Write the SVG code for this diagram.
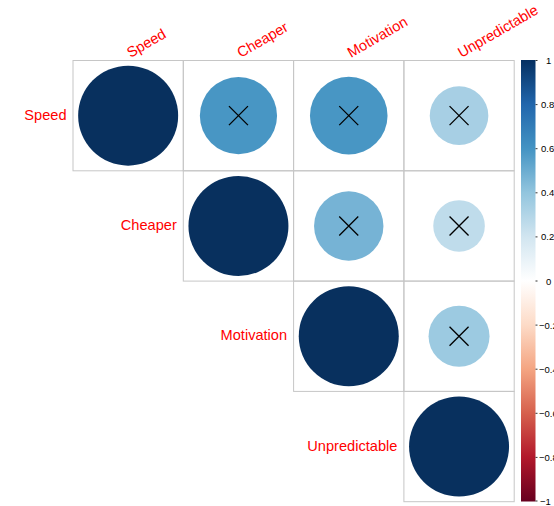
<svg xmlns="http://www.w3.org/2000/svg" width="554" height="506" viewBox="0 0 554 506">
<defs>
<linearGradient id="rdbu" x1="0" y1="1" x2="0" y2="0">
<stop offset="0" stop-color="#67001F"/>
<stop offset="0.1" stop-color="#B2182B"/>
<stop offset="0.2" stop-color="#D6604D"/>
<stop offset="0.3" stop-color="#F4A582"/>
<stop offset="0.4" stop-color="#FDDBC7"/>
<stop offset="0.5" stop-color="#FFFFFF"/>
<stop offset="0.6" stop-color="#D1E5F0"/>
<stop offset="0.7" stop-color="#92C5DE"/>
<stop offset="0.8" stop-color="#4393C3"/>
<stop offset="0.9" stop-color="#2166AC"/>
<stop offset="1" stop-color="#053061"/>
</linearGradient>
</defs>
<style>
.cell{fill:none;stroke:#C6C6C6;stroke-width:1}
.lab{font-family:"Liberation Sans",Arial,sans-serif;font-size:14.6px;fill:#FF0000}
.row{text-anchor:end}
.x{stroke:#000;stroke-width:1.3;fill:none}
.cl{font-family:"Liberation Sans",Arial,sans-serif;font-size:9.5px;fill:#000}
.tick{stroke:#333;stroke-width:1}
</style>
<rect width="554" height="506" fill="#FFFFFF"/>

<g id="grid">
<rect class="cell" x="73" y="60.5" width="110.3" height="110.3"/>
<rect class="cell" x="183.3" y="60.5" width="110.3" height="110.3"/>
<rect class="cell" x="293.6" y="60.5" width="110.3" height="110.3"/>
<rect class="cell" x="403.9" y="60.5" width="110.3" height="110.3"/>
<rect class="cell" x="183.3" y="170.8" width="110.3" height="110.3"/>
<rect class="cell" x="293.6" y="170.8" width="110.3" height="110.3"/>
<rect class="cell" x="403.9" y="170.8" width="110.3" height="110.3"/>
<rect class="cell" x="293.6" y="281.1" width="110.3" height="110.3"/>
<rect class="cell" x="403.9" y="281.1" width="110.3" height="110.3"/>
<rect class="cell" x="403.9" y="391.4" width="110.3" height="110.3"/>
</g>

<g id="speed-speed"><circle cx="128.15" cy="115.65" r="50" fill="#08305E"/></g>
<g id="speed-cheaper"><circle cx="238.45" cy="115.65" r="38.6" fill="#4896C4"/><path class="x" d="M228.95 106.15L247.95 125.15M228.95 125.15L247.95 106.15"/></g>
<g id="speed-motivation"><circle cx="348.75" cy="115.65" r="38.8" fill="#4896C4"/><path class="x" d="M339.25 106.15L358.25 125.15M339.25 125.15L358.25 106.15"/></g>
<g id="speed-unpredictable"><circle cx="459.05" cy="115.65" r="29.3" fill="#A7CFE4"/><path class="x" d="M449.55 106.15L468.55 125.15M449.55 125.15L468.55 106.15"/></g>
<g id="cheaper-cheaper"><circle cx="238.45" cy="225.95" r="50" fill="#08305E"/></g>
<g id="cheaper-motivation"><circle cx="348.75" cy="225.95" r="34.7" fill="#76B3D5"/><path class="x" d="M339.25 216.45L358.25 235.45M339.25 235.45L358.25 216.45"/></g>
<g id="cheaper-unpredictable"><circle cx="459.05" cy="225.95" r="25.8" fill="#BFDCEB"/><path class="x" d="M449.55 216.45L468.55 235.45M449.55 235.45L468.55 216.45"/></g>
<g id="motivation-motivation"><circle cx="348.75" cy="336.25" r="50" fill="#08305E"/></g>
<g id="motivation-unpredictable"><circle cx="459.05" cy="336.25" r="30.5" fill="#9CCAE1"/><path class="x" d="M449.55 326.75L468.55 345.75M449.55 345.75L468.55 326.75"/></g>
<g id="unpredictable-unpredictable"><circle cx="459.05" cy="446.55" r="50" fill="#08305E"/></g>

<g id="row-labels">
<text class="lab row" x="66.5" y="119.6">Speed</text>
<text class="lab row" x="176.8" y="230">Cheaper</text>
<text class="lab row" x="287.1" y="340.3">Motivation</text>
<text class="lab row" x="397.4" y="450.6">Unpredictable</text>
</g>

<g id="col-labels">
<text class="lab" x="130.5" y="58" transform="rotate(-30 130.5 58)">Speed</text>
<text class="lab" x="240.8" y="58" transform="rotate(-30 240.8 58)">Cheaper</text>
<text class="lab" x="351.1" y="58" transform="rotate(-30 351.1 58)">Motivation</text>
<text class="lab" x="461.4" y="58" transform="rotate(-30 461.4 58)">Unpredictable</text>
</g>

<g id="colorbar">
<rect x="521" y="60" width="14.5" height="441.5" fill="url(#rdbu)"/>
<path class="tick" d="M535.5 60.5h2M535.5 104.6h2M535.5 148.7h2M535.5 192.8h2M535.5 236.9h2M535.5 281h2M535.5 325.1h2M535.5 369.2h2M535.5 413.3h2M535.5 457.4h2M535.5 501h2"/>
<text class="cl" x="546" y="64">1</text>
<text class="cl" x="541" y="108">0.8</text>
<text class="cl" x="541" y="152">0.6</text>
<text class="cl" x="541" y="196">0.4</text>
<text class="cl" x="541" y="240">0.2</text>
<text class="cl" x="546" y="284.5">0</text>
<text class="cl" x="539" y="328.5">−0.2</text>
<text class="cl" x="539" y="372.5">−0.4</text>
<text class="cl" x="539" y="416.5">−0.6</text>
<text class="cl" x="539" y="460.5">−0.8</text>
<text class="cl" x="540" y="504.5">−1</text>
</g>
</svg>
